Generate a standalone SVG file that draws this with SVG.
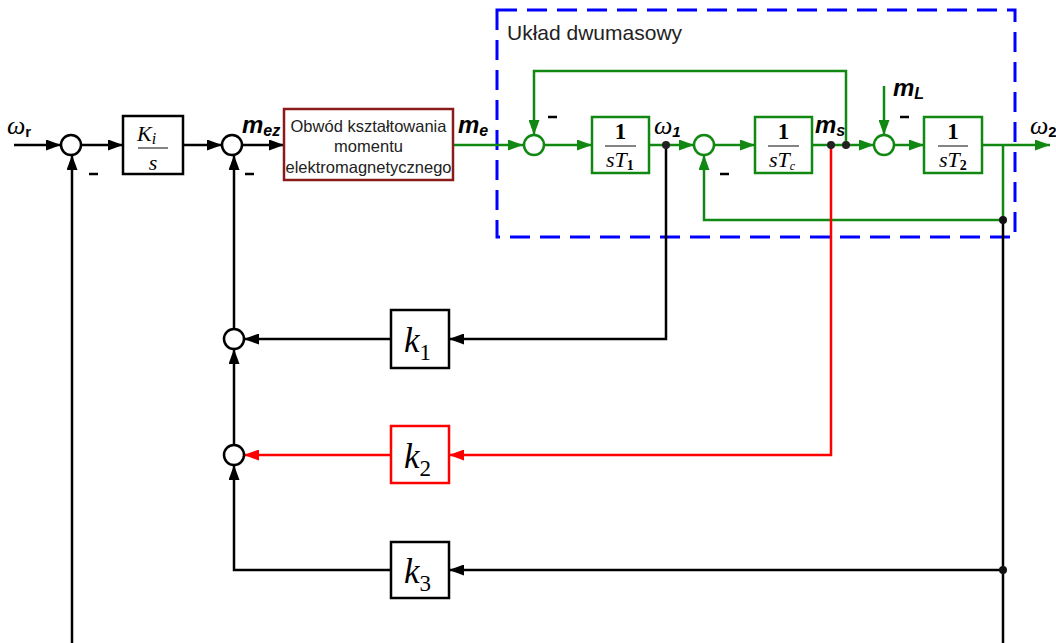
<svg xmlns="http://www.w3.org/2000/svg" width="1056" height="643" viewBox="0 0 1056 643">
<style>
.bk{stroke:#000;stroke-width:2.5;fill:none}
.gr{stroke:#118811;stroke-width:2.5;fill:none}
.rd{stroke:#ff0000;stroke-width:2.5;fill:none}
.sumb{stroke:#000;stroke-width:2.5;fill:#fff}
.sumg{stroke:#118811;stroke-width:2.5;fill:#fff}
.boxb{stroke:#000;stroke-width:2.5;fill:#fff}
.boxg{stroke:#118811;stroke-width:2.5;fill:#fff}
.boxr{stroke:#ff0000;stroke-width:2.5;fill:#fff}
.math{font-family:"Liberation Serif",serif;font-style:italic}
.one{font-family:"Liberation Serif",serif;font-weight:bold;font-size:23px}
.lbl{font-family:"Liberation Sans",Arial,sans-serif;font-weight:bold;font-style:italic}
.sans{font-family:"Liberation Sans",Arial,sans-serif;fill:#222}
.frac{stroke:#777;stroke-width:1.8}
.minus{stroke:#000;stroke-width:2.5}
.sub{font-family:"Liberation Serif",serif;font-style:normal;font-weight:bold;font-size:14px}
</style>
<defs>
<marker id="ab" markerUnits="userSpaceOnUse" markerWidth="15" markerHeight="11" refX="15" refY="5.5" orient="auto"><path d="M0,0 L15,5.5 L0,11 z" fill="#000"/></marker>
<marker id="ag" markerUnits="userSpaceOnUse" markerWidth="15" markerHeight="11" refX="15" refY="5.5" orient="auto"><path d="M0,0 L15,5.5 L0,11 z" fill="#118811"/></marker>
<marker id="ar" markerUnits="userSpaceOnUse" markerWidth="15" markerHeight="11" refX="15" refY="5.5" orient="auto"><path d="M0,0 L15,5.5 L0,11 z" fill="#ff0000"/></marker>
</defs>
<rect width="1056" height="643" fill="#fff"/>

<!-- subsystem frame -->
<g id="frame">
<rect x="497" y="10" width="518" height="227" fill="none" stroke="#0000ff" stroke-width="3" stroke-dasharray="20,10"/>
<text x="507" y="40" class="sans" font-size="21">Układ dwumasowy</text>
</g>

<!-- connectors -->
<g id="connectors">
<line class="bk" x1="14" y1="145" x2="61" y2="145" marker-end="url(#ab)"/>
<line class="bk" x1="81" y1="145" x2="123" y2="145" marker-end="url(#ab)"/>
<line class="bk" x1="183" y1="145" x2="222" y2="145" marker-end="url(#ab)"/>
<line class="bk" x1="242" y1="145" x2="284" y2="145" marker-end="url(#ab)"/>
<line class="gr" x1="453" y1="145" x2="523" y2="145" marker-end="url(#ag)"/>
<line class="gr" x1="544" y1="145" x2="592" y2="145" marker-end="url(#ag)"/>
<line class="gr" x1="649" y1="145" x2="694" y2="145" marker-end="url(#ag)"/>
<line class="gr" x1="714" y1="145" x2="755" y2="145" marker-end="url(#ag)"/>
<line class="gr" x1="812" y1="145" x2="874" y2="145" marker-end="url(#ag)"/>
<line class="gr" x1="894" y1="145" x2="924" y2="145" marker-end="url(#ag)"/>
<line class="gr" x1="982" y1="145" x2="1050" y2="145" marker-end="url(#ag)"/>
<polyline class="gr" points="846,145 846,71 534,71 534,135" marker-end="url(#ag)"/>
<line class="gr" x1="884" y1="86" x2="884" y2="135" marker-end="url(#ag)"/>
<polyline class="gr" points="1003,145 1003,220 704,220 704,155" marker-end="url(#ag)"/>
<line class="bk" x1="1003" y1="220" x2="1003" y2="643"/>
<polyline class="bk" points="666,145 666,339 449,339" marker-end="url(#ab)"/>
<polyline class="rd" points="831,145 831,455 449,455" marker-end="url(#ar)"/>
<line class="bk" x1="1003" y1="570" x2="449" y2="570" marker-end="url(#ab)"/>
<line class="bk" x1="391" y1="339" x2="244" y2="339" marker-end="url(#ab)"/>
<line class="rd" x1="391" y1="455" x2="244" y2="455" marker-end="url(#ar)"/>
<polyline class="bk" points="391,570 234,570 234,465" marker-end="url(#ab)"/>
<line class="bk" x1="234" y1="445" x2="234" y2="349" marker-end="url(#ab)"/>
<line class="bk" x1="234" y1="329" x2="234" y2="155" marker-end="url(#ab)"/>
<line class="bk" x1="72" y1="643" x2="72" y2="155" marker-end="url(#ab)"/>
<circle cx="666" cy="145" r="4" fill="#222"/>
<circle cx="831" cy="145" r="4" fill="#222"/>
<circle cx="846" cy="145" r="4" fill="#222"/>
<circle cx="1003" cy="220" r="4" fill="#111"/>
<circle cx="1003" cy="570" r="4" fill="#111"/>
</g>

<!-- summing junctions -->
<g id="sum1"><circle class="sumb" cx="71" cy="145" r="10"/><line class="minus" x1="89" y1="174" x2="98" y2="174"/></g>
<g id="sum2"><circle class="sumb" cx="232" cy="145" r="10"/><line class="minus" x1="245" y1="174" x2="254" y2="174"/></g>
<g id="sum3"><circle class="sumg" cx="534" cy="145" r="10"/><line class="minus" x1="548" y1="117" x2="557" y2="117"/></g>
<g id="sum4"><circle class="sumg" cx="704" cy="145" r="10"/><line class="minus" x1="720" y1="174" x2="729" y2="174"/></g>
<g id="sum5"><circle class="sumg" cx="884" cy="145" r="10"/><line class="minus" x1="900" y1="117" x2="909" y2="117"/></g>
<g id="sum6"><circle class="sumb" cx="234" cy="339" r="10"/></g>
<g id="sum7"><circle class="sumb" cx="234" cy="455" r="10"/></g>

<!-- blocks -->
<g id="integrator">
<rect class="boxb" x="123" y="116" width="60" height="58"/>
<line class="frac" x1="138" y1="148" x2="168" y2="148"/>
<text x="137" y="141" class="math" font-size="22">K<tspan font-size="16" dy="3">i</tspan></text>
<text x="153" y="170" class="math" font-size="22" text-anchor="middle">s</text>
</g>
<g id="torque">
<rect x="284" y="109" width="169" height="71" fill="#fff" stroke="#8b1a1a" stroke-width="2.5"/>
<text x="368.5" y="132" class="sans" font-size="16.5" text-anchor="middle">Obwód kształtowania</text>
<text x="368.5" y="152" class="sans" font-size="16.5" text-anchor="middle">momentu</text>
<text x="368.5" y="173" class="sans" font-size="16.5" text-anchor="middle">elektromagnetycznego</text>
</g>
<g id="T1">
<rect class="boxg" x="592" y="117" width="57" height="56"/>
<text x="620.5" y="139" class="one" text-anchor="middle">1</text>
<line class="frac" x1="605" y1="146" x2="636" y2="146"/>
<text x="606" y="167" class="math" font-size="22">sT<tspan class="sub" dy="3">1</tspan></text>
</g>
<g id="Tc">
<rect class="boxg" x="755" y="117" width="57" height="56"/>
<text x="783.5" y="139" class="one" text-anchor="middle">1</text>
<line class="frac" x1="768" y1="146" x2="799" y2="146"/>
<text x="769" y="167" class="math" font-size="22">sT<tspan font-size="12" dy="3">c</tspan></text>
</g>
<g id="T2">
<rect class="boxg" x="924" y="117" width="58" height="56"/>
<text x="953" y="139" class="one" text-anchor="middle">1</text>
<line class="frac" x1="938" y1="146" x2="968" y2="146"/>
<text x="939" y="167" class="math" font-size="22">sT<tspan class="sub" dy="3">2</tspan></text>
</g>
<g id="k1">
<rect class="boxb" x="391" y="310" width="58" height="58"/>
<text x="404" y="352" class="math" font-size="35">k<tspan font-style="normal" font-size="23" dy="8">1</tspan></text>
</g>
<g id="k2">
<rect class="boxr" x="391" y="426" width="58" height="57"/>
<text x="404" y="468" class="math" font-size="35">k<tspan font-style="normal" font-size="23" dy="8">2</tspan></text>
</g>
<g id="k3">
<rect class="boxb" x="391" y="542" width="58" height="56"/>
<text x="404" y="583" class="math" font-size="35">k<tspan font-style="normal" font-size="23" dy="8">3</tspan></text>
</g>

<!-- signal labels -->
<g id="labels">
<text x="7" y="134" class="math" font-size="26">ω<tspan font-family="Liberation Sans,sans-serif" font-style="normal" font-weight="bold" font-size="15" dy="3">r</tspan></text>
<text x="242" y="133" class="lbl" font-size="24">m<tspan font-size="16" dy="3">ez</tspan></text>
<text x="458" y="133" class="lbl" font-size="24">m<tspan font-size="16" dy="3">e</tspan></text>
<text x="654" y="134" class="math" font-size="26">ω<tspan font-family="Liberation Sans,sans-serif" font-style="italic" font-weight="bold" font-size="15" dy="3">1</tspan></text>
<text x="815" y="133" class="lbl" font-size="24">m<tspan font-size="16" dy="3">s</tspan></text>
<text x="893" y="96" class="lbl" font-size="24">m<tspan font-size="16" dy="3">L</tspan></text>
<text x="1030" y="134" class="math" font-size="26">ω<tspan font-family="Liberation Sans,sans-serif" font-style="normal" font-weight="bold" font-size="15" dy="3">2</tspan></text>
</g>
</svg>
